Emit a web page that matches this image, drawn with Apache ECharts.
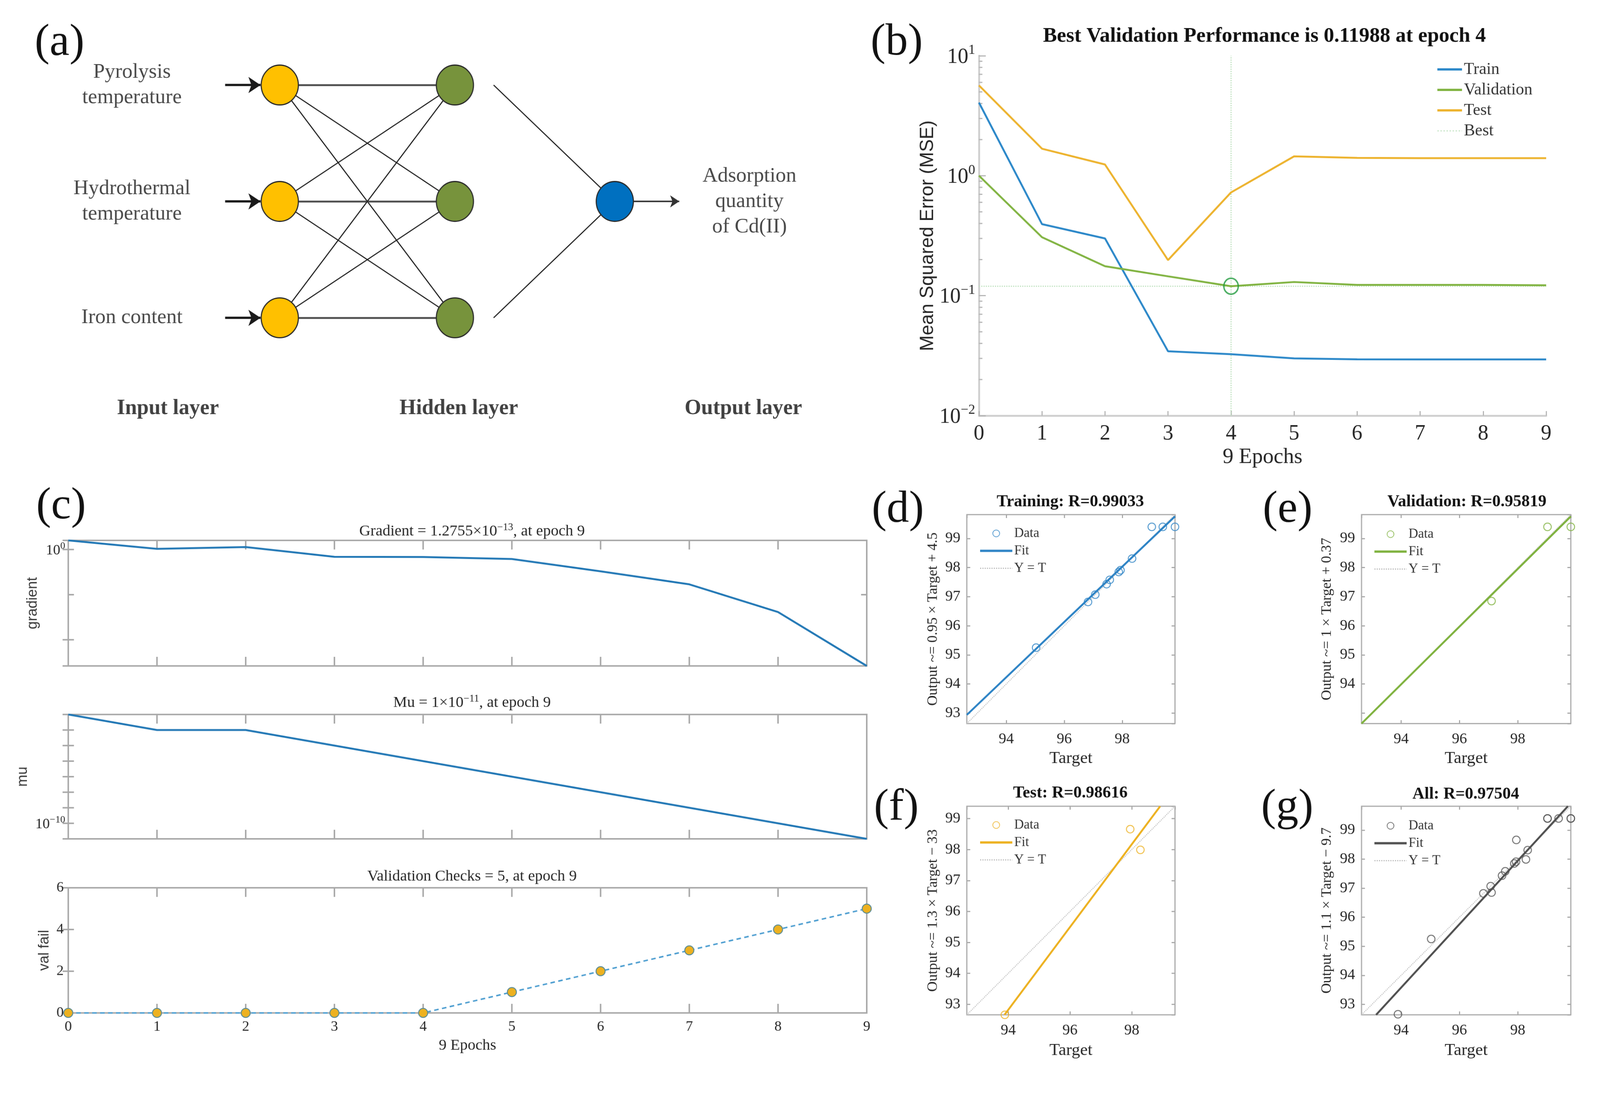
<!DOCTYPE html>
<html>
<head>
<meta charset="utf-8">
<script src="https://cdn.jsdelivr.net/npm/echarts@6/dist/echarts.min.js"></script>
<style>html,body{margin:0;padding:0;background:#fff;overflow:hidden}#c{width:4220px;height:2841px;transform-origin:0 0}</style>
</head>
<body>
<div id="c"></div>
<script>
// ================= DATA =================
const epochs = [0, 1, 2, 3, 4, 5, 6, 7, 8, 9];
// (b) performance
const perfTrain = [4.07, 0.395, 0.30, 0.0344, 0.0325, 0.0300, 0.0295, 0.0294, 0.0294, 0.0294];
const perfValidation = [1.0, 0.307, 0.176, 0.145, 0.11988, 0.130, 0.123, 0.123, 0.123, 0.122];
const perfTest = [5.66, 1.68, 1.24, 0.198, 0.726, 1.45, 1.41, 1.40, 1.40, 1.40];
const bestEpoch = 4;
const bestPerf = 0.11988;
const perfYMin = 0.01, perfYMax = 10;
// (c) training state
const gradientVals = [10.3, 1.2, 1.88, 0.157, 0.15, 0.090, 0.0039, 1.4e-4, 1.2e-7, 1.2755e-13];
const muVals = [1e-3, 1e-4, 1e-4, 1e-5, 1e-6, 1e-7, 1e-8, 1e-9, 1e-10, 1e-11];
const valFail = [0, 0, 0, 0, 0, 1, 2, 3, 4, 5];
const gradientExtraTicks = [1e-5];
// (d)-(g) regression [target, output]
const trainPts = [[95.03, 95.25], [96.82, 96.82], [97.07, 97.07], [97.46, 97.43], [97.57, 97.58], [97.88, 97.85], [97.94, 97.91], [98.34, 98.31], [99.02, 99.40], [99.40, 99.40], [99.82, 99.40]];
const valPts = [[97.10, 96.85], [99.02, 99.40], [99.82, 99.40]];
const testPts = [[93.89, 92.66], [97.95, 98.66], [98.28, 97.99]];
const allPts = trainPts.concat(valPts, testPts);
const fitTrain = [[92.64, 92.94], [99.82, 99.76]];
const fitVal = [[92.64, 92.64], [99.82, 99.76]];
const fitTest = [[93.88, 92.66], [98.92, 99.40]];
const fitAll = [[93.14, 92.64], [99.72, 99.82]];
const rangeTrain = [92.64, 99.82];
const rangeVal = [92.64, 99.82];
const rangeTest = [92.66, 99.40];
const rangeAll = [92.64, 99.82];
// texts
const inputNames = ['Pyrolysis\ntemperature', 'Hydrothermal\ntemperature', 'Iron content'];
const hiddenUnits = 3;
const outputName = 'Adsorption\nquantity\nof Cd(II)';
const layerNames = ['Input layer', 'Hidden layer', 'Output layer'];
const perfTitle = 'Best Validation Performance is 0.11988 at epoch 4';
const cTitles = ['Gradient = 1.2755×10{s|\u221213}, at epoch 9', 'Mu = 1×10{s|\u221211}, at epoch 9', 'Validation Checks = 5, at epoch 9'];
const cYNames = ['gradient', 'mu', 'val fail'];
const regTitles = ['Training: R=0.99033', 'Validation: R=0.95819', 'Test: R=0.98616', 'All: R=0.97504'];
const regYNames = ['Output ~= 0.95 × Target + 4.5', 'Output ~= 1 × Target + 0.37', 'Output ~= 1.3 × Target \u2212 33', 'Output ~= 1.1 × Target \u2212 9.7'];
const panelLetters = ['(a)', '(b)', '(c)', '(d)', '(e)', '(f)', '(g)'];

// ================= STYLE / LAYOUT =================
const SERIF = "'Liberation Serif','Times New Roman',serif";
const SANS = "'Liberation Sans',Arial,sans-serif";
const BOX = '#a9a9a9';
const TXT = '#262626';

// fit the 4220x2841 drawing into whatever viewport the page really gets
(function () {
  const S = Math.min(window.innerWidth / 4220, window.innerHeight / 2841);
  if (S > 0 && Math.abs(S - 1) > 0.002) document.getElementById('c').style.transform = 'scale(' + S + ')';
})();

const grids = [], xAxes = [], yAxes = [], series = [], titles = [], legends = [];

function logLabel(v, allowed) {
  const l = Math.log10(v);
  const e = Math.round(l);
  if (Math.abs(l - e) > 1e-6) return '';
  if (allowed && allowed.indexOf(e) < 0) return '';
  return '{b|10}{s|' + (e < 0 ? '\u2212' + (-e) : e) + '}';
}
function richSup(base, sup) {
  return {
    b: {fontFamily: SERIF, fontSize: base, lineHeight: Math.round(base * 1.15), verticalAlign: 'bottom', color: TXT},
    s: {fontFamily: SERIF, fontSize: sup, lineHeight: sup, verticalAlign: 'top', color: TXT}
  };
}
const tickRender = function (len, color, width) {
  return function (params, api) {
    const p = api.coord([api.value(0), api.value(1)]);
    const dir = api.value(2);
    return {type: 'line', shape: {x1: p[0], y1: p[1], x2: p[0] + dir * len, y2: p[1]}, style: {stroke: color, lineWidth: width}, silent: true};
  };
};
const lineLegendItem = (name, ls) => ({name: name, itemStyle: {opacity: 0}, lineStyle: ls});

// ---------- (a) network diagram ----------
grids.push({left: 45, top: 40, width: 2171, height: 1105, outerBoundsMode: 'none'});
xAxes.push({gridIndex: 0, type: 'value', min: -1.5, max: 3.2, show: false});
yAxes.push({gridIndex: 0, type: 'value', min: -0.6, max: 3.0, inverse: true, show: false});
const LX = {arrowStart: -0.312, input: 0, hidden: 1, hiddenOutStart: 1.221, output: 1.913, outArrowEnd: 2.281, inLabel: -0.844, outLabel: 2.682};
const layerTitleX = [-0.639, 1.022, 2.647];
const layerTitleRow = 2.78;
const nodeSize = [98, 105];
const nodeBorder = {borderColor: '#2b2b2b', borderWidth: 3};
const gNodes = [], gLinks = [];
const midRow = (hiddenUnits - 1) / 2;
inputNames.forEach((n, i) => gNodes.push({name: 'in' + i, value: [LX.input, i], symbolSize: nodeSize, itemStyle: Object.assign({color: '#FFC000'}, nodeBorder)}));
for (let j = 0; j < hiddenUnits; j++) gNodes.push({name: 'hid' + j, value: [LX.hidden, j], symbolSize: nodeSize, itemStyle: Object.assign({color: '#77933C'}, nodeBorder)});
gNodes.push({name: 'out', value: [LX.output, midRow], symbolSize: nodeSize, itemStyle: Object.assign({color: '#0070C0'}, nodeBorder)});
inputNames.forEach((n, i) => gNodes.push({name: 'src' + i, value: [LX.arrowStart, i], symbolSize: 0, itemStyle: {opacity: 0}}));
gNodes.push({name: 'outEnd', value: [LX.outArrowEnd, midRow], symbolSize: 0, itemStyle: {opacity: 0}});
[0, hiddenUnits - 1].forEach(j => gNodes.push({name: 'hs' + j, value: [LX.hiddenOutStart, j], symbolSize: 0, itemStyle: {opacity: 0}}));
inputNames.forEach((n, i) => {
  for (let j = 0; j < hiddenUnits; j++) {
    gLinks.push({source: 'in' + i, target: 'hid' + j, lineStyle: {color: i === j ? '#505050' : '#1e1e1e', width: i === j ? 5 : 2.8}});
  }
  gLinks.push({source: 'src' + i, target: 'in' + i, symbol: ['none', 'arrow'], symbolSize: [0, 32], lineStyle: {color: '#1a1a1a', width: 6}});
});
[0, hiddenUnits - 1].forEach(j => gLinks.push({source: 'hs' + j, target: 'out', lineStyle: {color: '#1e1e1e', width: 2.8}}));
gLinks.push({source: 'out', target: 'outEnd', symbol: ['none', 'arrow'], symbolSize: [0, 24], lineStyle: {color: '#333', width: 4}});
series.push({
  type: 'graph', layout: 'none', coordinateSystem: 'cartesian2d', xAxisIndex: 0, yAxisIndex: 0,
  data: gNodes, links: gLinks, silent: true, roam: false, label: {show: false},
  lineStyle: {opacity: 1, curveness: 0}, emphasis: {disabled: true}, z: 2
});
series.push({
  type: 'scatter', xAxisIndex: 0, yAxisIndex: 0, symbolSize: 1, itemStyle: {color: 'rgba(0,0,0,0)'}, silent: true,
  label: {show: true, position: 'inside', formatter: '{b}', fontFamily: SERIF, fontSize: 55, lineHeight: 67, color: '#1a1a1a'},
  data: inputNames.map((n, i) => ({name: n, value: [LX.inLabel, i]})).concat([{name: outputName, value: [LX.outLabel, midRow]}])
});
series.push({
  type: 'scatter', xAxisIndex: 0, yAxisIndex: 0, symbolSize: 1, itemStyle: {color: 'rgba(0,0,0,0)'}, silent: true,
  label: {show: true, position: 'inside', formatter: '{b}', fontFamily: SERIF, fontSize: 56, fontWeight: 'bold', color: '#111'},
  data: layerNames.map((n, k) => ({name: n, value: [layerTitleX[k], layerTitleRow]}))
});

// ---------- (b) performance ----------
grids.push({left: 2582, top: 147, width: 1496, height: 949, outerBoundsMode: 'none'});
xAxes.push({
  gridIndex: 1, type: 'value', min: 0, max: 9, interval: 1,
  name: '9 Epochs', nameLocation: 'middle', nameGap: 82, nameTextStyle: {fontFamily: SERIF, fontSize: 57, color: TXT},
  axisLine: {show: true, onZero: false, lineStyle: {color: '#d0d0d0', width: 5}},
  axisTick: {show: true, inside: true, length: 12, lineStyle: {color: '#b5b5b5', width: 3}},
  axisLabel: {fontFamily: SERIF, fontSize: 56, color: TXT, margin: 20}, splitLine: {show: false}
});
yAxes.push({
  gridIndex: 1, type: 'log', logBase: 10, min: perfYMin, max: perfYMax,
  name: 'Mean Squared Error (MSE)', nameLocation: 'middle', nameGap: 110, nameTextStyle: {fontFamily: SANS, fontSize: 50, color: TXT},
  axisLine: {show: true, lineStyle: {color: '#d0d0d0', width: 5}},
  axisTick: {show: true, inside: true, length: 18, lineStyle: {color: '#b5b5b5', width: 3}},
  axisLabel: {formatter: v => logLabel(v), margin: 10, rich: richSup(56, 36)}, splitLine: {show: false}
});
const bMinor = [];
[0.01, 0.1, 1].forEach(d => [2, 3, 4, 5, 6, 7, 8, 9].forEach(m => bMinor.push([0, m * d, 1])));
series.push({type: 'custom', xAxisIndex: 1, yAxisIndex: 1, renderItem: tickRender(9, '#b5b5b5', 3), data: bMinor, silent: true, clip: false, z: 1});
const C_TRAIN = '#2C88C9', C_VAL = '#82B443', C_TEST = '#EDB32E', BEST = '#bfe2bf';
const perfLine = (name, vals, color) => ({
  name, type: 'line', xAxisIndex: 1, yAxisIndex: 1, symbol: 'none', showSymbol: false, lineStyle: {color, width: 5}, itemStyle: {color},
  data: epochs.map((e, i) => [e, vals[i]]), z: 3, silent: true
});
series.push({name: 'Best', type: 'line', xAxisIndex: 1, yAxisIndex: 1, symbol: 'none', showSymbol: false, lineStyle: {color: BEST, width: 3, type: 'dotted'}, itemStyle: {color: BEST}, data: [[bestEpoch, perfYMin], [bestEpoch, perfYMax]], z: 2, silent: true});
series.push({name: 'Best', type: 'line', xAxisIndex: 1, yAxisIndex: 1, symbol: 'none', showSymbol: false, lineStyle: {color: BEST, width: 3, type: 'dotted'}, itemStyle: {color: BEST}, data: [[epochs[0], bestPerf], [epochs[epochs.length - 1], bestPerf]], z: 2, silent: true});
series.push(perfLine('Train', perfTrain, C_TRAIN));
series.push(perfLine('Validation', perfValidation, C_VAL));
series.push(perfLine('Test', perfTest, C_TEST));
series.push({type: 'scatter', xAxisIndex: 1, yAxisIndex: 1, symbol: 'circle', symbolSize: [38, 42], itemStyle: {color: 'rgba(0,0,0,0)', borderColor: '#1f9a3c', borderWidth: 4}, data: [[bestEpoch, bestPerf]], z: 5, silent: true});
legends.push({
  orient: 'vertical', left: 3788, top: 161, padding: 0, itemWidth: 65, itemHeight: 20, itemGap: 10, selectedMode: false,
  data: [
    lineLegendItem('Train', {color: C_TRAIN, width: 6, type: 'solid'}),
    lineLegendItem('Validation', {color: C_VAL, width: 6, type: 'solid'}),
    lineLegendItem('Test', {color: C_TEST, width: 6, type: 'solid'}),
    lineLegendItem('Best', {color: '#d6ecd6', width: 4, type: 'dotted'})
  ],
  textStyle: {fontFamily: SERIF, fontSize: 44, lineHeight: 44, color: '#333'}
});
titles.push({text: perfTitle, left: 3335, top: 96, padding: 0, textAlign: 'center', textVerticalAlign: 'middle', textStyle: {fontFamily: SERIF, fontWeight: 'bold', fontSize: 55, color: '#111'}});

// ---------- (c) training state ----------
const cTops = [1425, 1884, 2341], cHeights = [331, 328, 330], cTitleY = [1401, 1853, 2311];
const cNameGaps = [74, 100, 43];
const gMin = Math.min.apply(null, gradientVals), gMax = Math.max.apply(null, gradientVals);
const mMin = Math.min.apply(null, muVals), mMax = Math.max.apply(null, muVals);
for (let k = 0; k < 3; k++) {
  const gi = grids.length;
  grids.push({left: 180, top: cTops[k], width: 2106, height: cHeights[k], show: true, borderColor: BOX, borderWidth: 4, backgroundColor: 'rgba(0,0,0,0)', outerBoundsMode: 'none'});
  const xBase = {
    gridIndex: gi, type: 'value', min: 0, max: 9, interval: 1, splitLine: {show: false},
    axisLine: {show: false, onZero: false},
    axisTick: {show: true, inside: true, length: 24, lineStyle: {color: BOX, width: 4}}
  };
  xAxes.push(Object.assign({}, xBase, {
    position: 'bottom',
    name: k === 2 ? '9 Epochs' : '', nameLocation: 'middle', nameGap: 66, nameTextStyle: {fontFamily: SERIF, fontSize: 41, color: TXT},
    axisLabel: {show: k === 2, fontFamily: SERIF, fontSize: 38, color: TXT, margin: 18}
  }));
  xAxes.push(Object.assign({}, xBase, {position: 'top', axisLabel: {show: false}}));
  let yBase;
  if (k === 0) {
    yBase = {type: 'log', logBase: 10, min: gMin, max: gMax, axisLabel: {formatter: v => logLabel(v, [0]), margin: 8, rich: richSup(38, 26)}};
  } else if (k === 1) {
    yBase = {type: 'log', logBase: 10, min: mMin, max: mMax, axisLabel: {formatter: v => logLabel(v, [-10]), margin: 8, rich: richSup(38, 26)}};
  } else {
    yBase = {type: 'value', min: 0, max: 6, interval: 2, axisLabel: {fontFamily: SERIF, fontSize: 38, color: TXT, margin: 12}};
  }
  const yCommon = {gridIndex: gi, splitLine: {show: false}, axisLine: {show: false}, axisTick: {show: true, inside: true, length: 15, lineStyle: {color: BOX, width: 4}}};
  yAxes.push(Object.assign({}, yCommon, yBase, {
    position: 'left', name: cYNames[k], nameLocation: 'middle', nameGap: cNameGaps[k], nameTextStyle: {fontFamily: SANS, fontSize: 38, color: '#3a3a3a'}
  }));
  yAxes.push(Object.assign({}, yCommon, yBase, {position: 'right', axisLabel: {show: false}}));
  titles.push({
    text: cTitles[k], left: 1245, top: cTitleY[k], padding: 0, textAlign: 'center', textVerticalAlign: 'middle',
    textStyle: {fontFamily: SERIF, fontWeight: 'normal', fontSize: 41, lineHeight: 48, color: TXT, rich: {s: {fontFamily: SERIF, fontWeight: 'normal', fontSize: 27, lineHeight: 27, verticalAlign: 'top', color: TXT}}}
  });
}
// gradient
series.push({type: 'line', xAxisIndex: 2, yAxisIndex: 2, symbol: 'none', lineStyle: {color: '#2479B6', width: 5}, data: epochs.map((e, i) => [e, gradientVals[i]]), silent: true, z: 3});
series.push({type: 'custom', xAxisIndex: 2, yAxisIndex: 2, renderItem: tickRender(15, BOX, 4),
  data: gradientExtraTicks.map(v => [epochs[0], v, 1]).concat(gradientExtraTicks.map(v => [epochs[epochs.length - 1], v, -1])), silent: true, clip: false, z: 1});
// mu
series.push({type: 'line', xAxisIndex: 4, yAxisIndex: 4, symbol: 'none', lineStyle: {color: '#2479B6', width: 5}, data: epochs.map((e, i) => [e, muVals[i]]), silent: true, z: 3});
// val fail
series.push({
  type: 'line', xAxisIndex: 6, yAxisIndex: 6, symbol: 'circle', symbolSize: 24, showAllSymbol: true,
  lineStyle: {color: '#4f9fd1', width: 4, type: [12, 9]}, itemStyle: {color: '#EDB120', borderColor: '#5a8c96', borderWidth: 2.5},
  data: epochs.map((e, i) => [e, valFail[i]]), silent: true, z: 3
});

// ---------- (d)-(g) regression ----------
const regPts = [trainPts, valPts, testPts, allPts];
const regFits = [fitTrain, fitVal, fitTest, fitAll];
const regRanges = [rangeTrain, rangeVal, rangeTest, rangeAll];
const regColors = ['#2D83C5', '#7FB23E', '#EDB120', '#505050'];
const YT_COLOR = '#bdbdbd';
const regHideY = [[], [93], [], []];
const regLayout = [
  {left: 2550, top: 1357, width: 549, height: 551, tx: 2823, ty: 1324, lx: 2582, ly: 1389, yGap: 70, xGap: 70},
  {left: 3591, top: 1357, width: 552, height: 551, tx: 3869, ty: 1324, lx: 3622, ly: 1391, yGap: 72, xGap: 70},
  {left: 2550, top: 2126, width: 549, height: 550, tx: 2823, ty: 2092, lx: 2582, ly: 2158, yGap: 70, xGap: 72},
  {left: 3591, top: 2126, width: 552, height: 550, tx: 3866, ty: 2095, lx: 3622, ly: 2160, yGap: 72, xGap: 72}
];
for (let k = 0; k < 4; k++) {
  const L = regLayout[k];
  const gi = grids.length;
  const r = regRanges[k];
  grids.push({left: L.left, top: L.top, width: L.width, height: L.height, show: true, borderColor: BOX, borderWidth: 3, backgroundColor: 'rgba(0,0,0,0)', outerBoundsMode: 'none'});
  const xa = xAxes.length, ya = yAxes.length;
  const xCommon = {
    gridIndex: gi, type: 'value', min: r[0], max: r[1], splitNumber: 4, minInterval: 2, maxInterval: 2, splitLine: {show: false},
    axisLine: {show: false, onZero: false}, axisTick: {show: true, inside: true, length: 9, lineStyle: {color: BOX, width: 3}}
  };
  xAxes.push(Object.assign({}, xCommon, {
    position: 'bottom', name: 'Target', nameLocation: 'middle', nameGap: L.xGap, nameTextStyle: {fontFamily: SERIF, fontSize: 45, color: TXT},
    axisLabel: {fontFamily: SERIF, fontSize: 40, color: TXT, margin: 21, showMinLabel: false, showMaxLabel: false, formatter: v => (Math.abs(v - Math.round(v)) < 1e-6 ? String(Math.round(v)) : '')}
  }));
  xAxes.push(Object.assign({}, xCommon, {position: 'top', axisLabel: {show: false}}));
  const yCommon = {
    gridIndex: gi, type: 'value', min: r[0], max: r[1], splitNumber: 7, minInterval: 1, maxInterval: 1, splitLine: {show: false},
    axisLine: {show: false, onZero: false}, axisTick: {show: true, inside: true, length: 9, lineStyle: {color: BOX, width: 3}}
  };
  const hide = regHideY[k];
  yAxes.push(Object.assign({}, yCommon, {
    position: 'left', name: regYNames[k], nameLocation: 'middle', nameGap: L.yGap, nameTextStyle: {fontFamily: SERIF, fontSize: 38, color: TXT},
    axisLabel: {fontFamily: SERIF, fontSize: 40, color: TXT, margin: 17, showMinLabel: false, showMaxLabel: false,
      formatter: v => { const n = Math.round(v); return (Math.abs(v - n) < 1e-6 && hide.indexOf(n) < 0) ? String(n) : ''; }}
  }));
  yAxes.push(Object.assign({}, yCommon, {position: 'right', axisLabel: {show: false}}));
  const c = regColors[k];
  series.push({name: 'Y = T#' + k, type: 'line', xAxisIndex: xa, yAxisIndex: ya, symbol: 'none', showSymbol: false, lineStyle: {color: YT_COLOR, width: 2.5, type: 'dotted'}, itemStyle: {color: YT_COLOR}, data: [[r[0], r[0]], [r[1], r[1]]], z: 2, silent: true});
  series.push({name: 'Fit#' + k, type: 'line', xAxisIndex: xa, yAxisIndex: ya, symbol: 'none', showSymbol: false, lineStyle: {color: c, width: 5}, itemStyle: {color: c}, data: regFits[k], z: 3, silent: true});
  series.push({name: 'Data#' + k, type: 'scatter', xAxisIndex: xa, yAxisIndex: ya, symbol: 'circle', symbolSize: 20, itemStyle: {color: 'rgba(255,255,255,0)', borderColor: c, borderWidth: 2.5}, data: regPts[k], z: 4, silent: true, clip: false});
  legends.push({
    orient: 'vertical', left: L.lx, top: L.ly, padding: 0, itemWidth: 85, itemHeight: 18, itemGap: 11, selectedMode: false,
    data: [
      {name: 'Data#' + k},
      lineLegendItem('Fit#' + k, {color: c, width: 6, type: 'solid'}),
      lineLegendItem('Y = T#' + k, {color: YT_COLOR, width: 3, type: 'dotted'})
    ],
    formatter: n => n.split('#')[0],
    textStyle: {fontFamily: SERIF, fontSize: 35, lineHeight: 34, color: '#333'}
  });
  titles.push({text: regTitles[k], left: L.tx, top: L.ty, padding: 0, textAlign: 'center', textVerticalAlign: 'middle', textStyle: {fontFamily: SERIF, fontWeight: 'bold', fontSize: 44, color: '#111'}});
}

// ---------- panel letters ----------
const letterPos = [[157, 114], [2365, 113], [161, 1336], [2368, 1345], [3396, 1345], [2364, 2131], [3395, 2131]];
const graphic = panelLetters.map((t, i) => ({
  type: 'text', x: letterPos[i][0], y: letterPos[i][1], silent: true,
  style: {text: t, fontFamily: SERIF, fontSize: 118, fill: '#111', align: 'center', verticalAlign: 'middle', textAlign: 'center', textVerticalAlign: 'middle'}
}));

const chart = echarts.init(document.getElementById('c'), null, {renderer: 'canvas', width: 4220, height: 2841});
chart.setOption({
  backgroundColor: '#ffffff',
  animation: false,
  textStyle: {fontFamily: SERIF},
  title: titles,
  legend: legends,
  grid: grids,
  xAxis: xAxes,
  yAxis: yAxes,
  series: series,
  graphic: graphic
});
</script>
</body>
</html>
